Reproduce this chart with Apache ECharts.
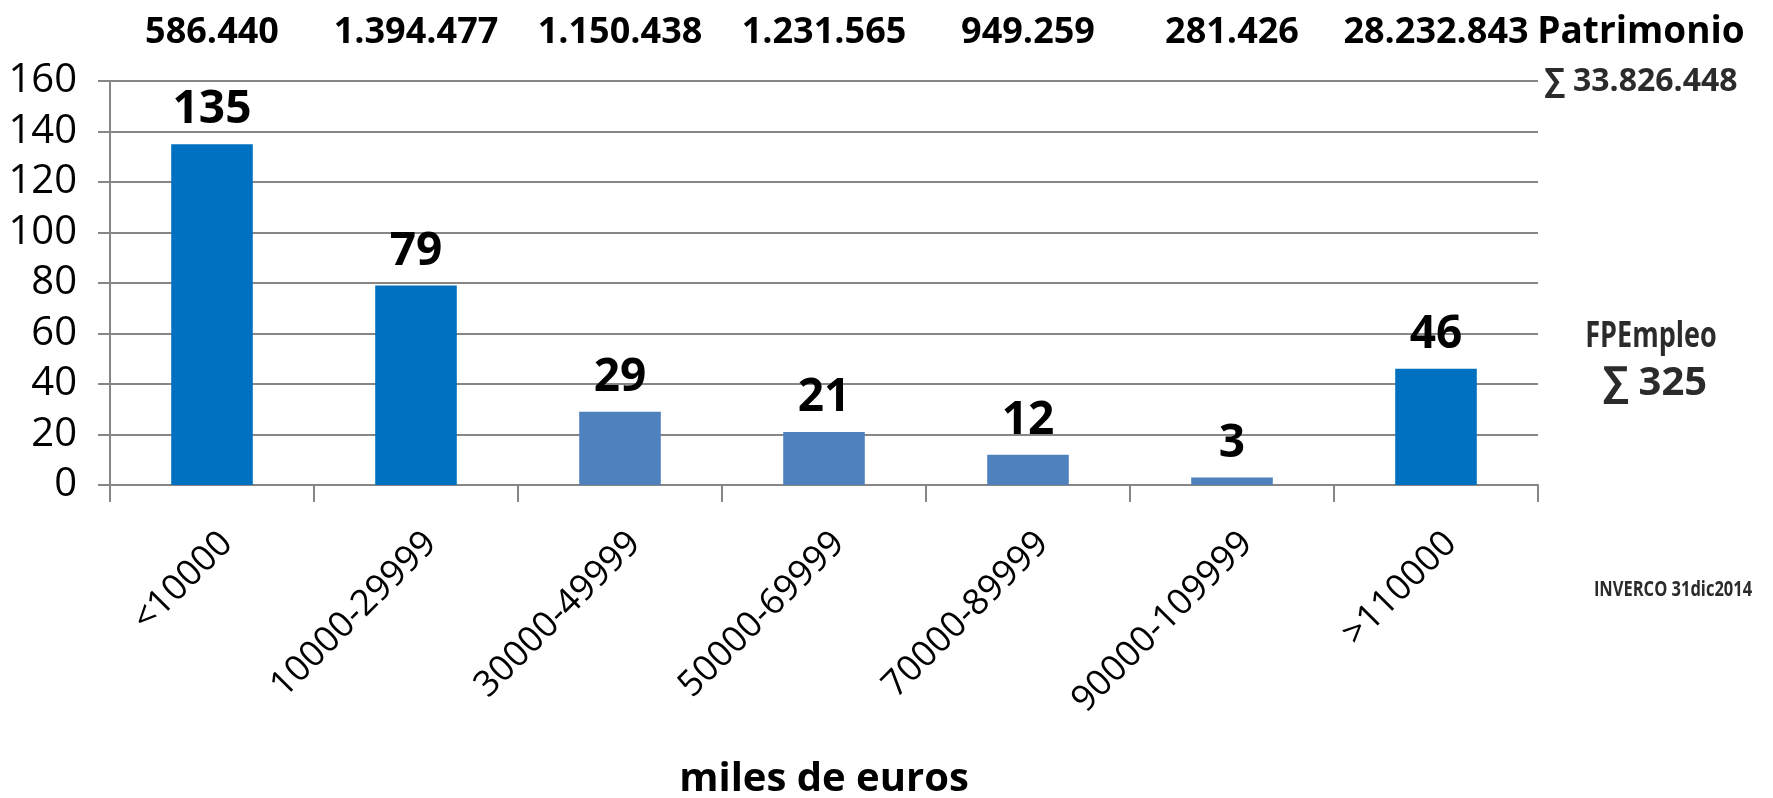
<!DOCTYPE html>
<html>
<head>
<meta charset="utf-8">
<script src="https://cdn.jsdelivr.net/npm/echarts@6/dist/echarts.min.js"></script>
<style>
  html, body { margin: 0; padding: 0; background: #fff; }
  #chart { width: 1773px; height: 798px; }
</style>
</head>
<body>
<div id="chart"></div>
<script>
// tramos de patrimonio (miles de euros)
const categories = ['<10000', '10000-29999', '30000-49999', '50000-69999', '70000-89999', '90000-109999', '>110000'];
// numero de fondos de empleo por tramo
const fondos = [135, 79, 29, 21, 12, 3, 46];
// patrimonio por tramo
const patrimonio = ['586.440', '1.394.477', '1.150.438', '1.231.565', '949.259', '281.426', '28.232.843'];
const yTicks = [0, 20, 40, 60, 80, 100, 120, 140, 160];

const oscuro = '#0070C0';
const claro = '#4F81BD';
const resaltados = [0, 1, 6];
const gris = '#868686';

const fontTxt = '"Open Sans", "Noto Sans", sans-serif';

let myChart = echarts.init(document.getElementById('chart'));

let barData = fondos.map(function (v, i) {
    return {
        value: v,
        itemStyle: { color: resaltados.indexOf(i) >= 0 ? oscuro : claro }
    };
});

// textos sueltos a la derecha
function texto(txt, x, y, size, sx, color) {
    return {
        type: 'text', x: x, y: y, scaleX: sx || 1,
        style: {
            text: txt, fill: color || '#000',
            font: 'bold ' + size + 'px ' + fontTxt,
            align: 'center', verticalAlign: 'middle'
        }
    };
}

let option = {
    animation: false,
    grid: { left: 110, right: 235, top: 81, bottom: 313, outerBoundsMode: 'none', containLabel: false },
    xAxis: [{
        type: 'category',
        data: categories,
        position: 'bottom',
        axisLine: { lineStyle: { color: gris, width: 2 } },
        axisTick: { show: true, length: 17, lineStyle: { color: gris, width: 2 } },
        axisLabel: {
            interval: 0,
            rotate: 45,
            margin: 38,
            verticalAlign: 'top',
            lineHeight: 42,
            color: '#000',
            fontSize: 36,
            fontFamily: fontTxt
        },
        name: 'miles de euros',
        nameLocation: 'middle',
        nameGap: 275,
        nameTextStyle: { fontSize: 40, fontWeight: 'bold', color: '#000', fontFamily: fontTxt }
    }, {
        type: 'category',
        data: patrimonio,
        position: 'top',
        axisLine: { show: false },
        axisTick: { show: false },
        axisLabel: {
            interval: 0,
            margin: 30,
            color: '#000',
            fontSize: 36,
            fontWeight: 'bold',
            fontFamily: fontTxt
        }
    }],
    yAxis: {
        type: 'value',
        min: yTicks[0],
        max: yTicks[yTicks.length - 1],
        interval: 20,
        axisLine: { show: true, lineStyle: { color: gris, width: 2 } },
        axisTick: { show: true, length: 12, lineStyle: { color: gris, width: 2 } },
        splitLine: { lineStyle: { color: gris, width: 2 } },
        axisLabel: {
            margin: 33,
            color: '#000',
            fontSize: 40,
            fontFamily: fontTxt
        }
    },
    series: [{
        type: 'bar',
        data: barData,
        barWidth: '40%',
        label: {
            show: true,
            position: 'top',
            distance: 11,
            color: '#000',
            fontSize: 46,
            fontWeight: 'bold',
            fontFamily: fontTxt
        }
    }],
    graphic: [
        texto('Patrimonio', 1641, 32, 37, 1),
        texto('∑ 33.826.448', 1641, 82, 32, 1, '#2b2b2b'),
        texto('FPEmpleo', 1651, 337, 36, 0.75, '#2b2b2b'),
        texto('∑ 325', 1655, 384, 40, 1, '#2b2b2b'),
        texto('INVERCO 31dic2014', 1673, 590, 22, 0.75, '#2b2b2b')
    ]
};

myChart.setOption(option);
</script>
</body>
</html>
